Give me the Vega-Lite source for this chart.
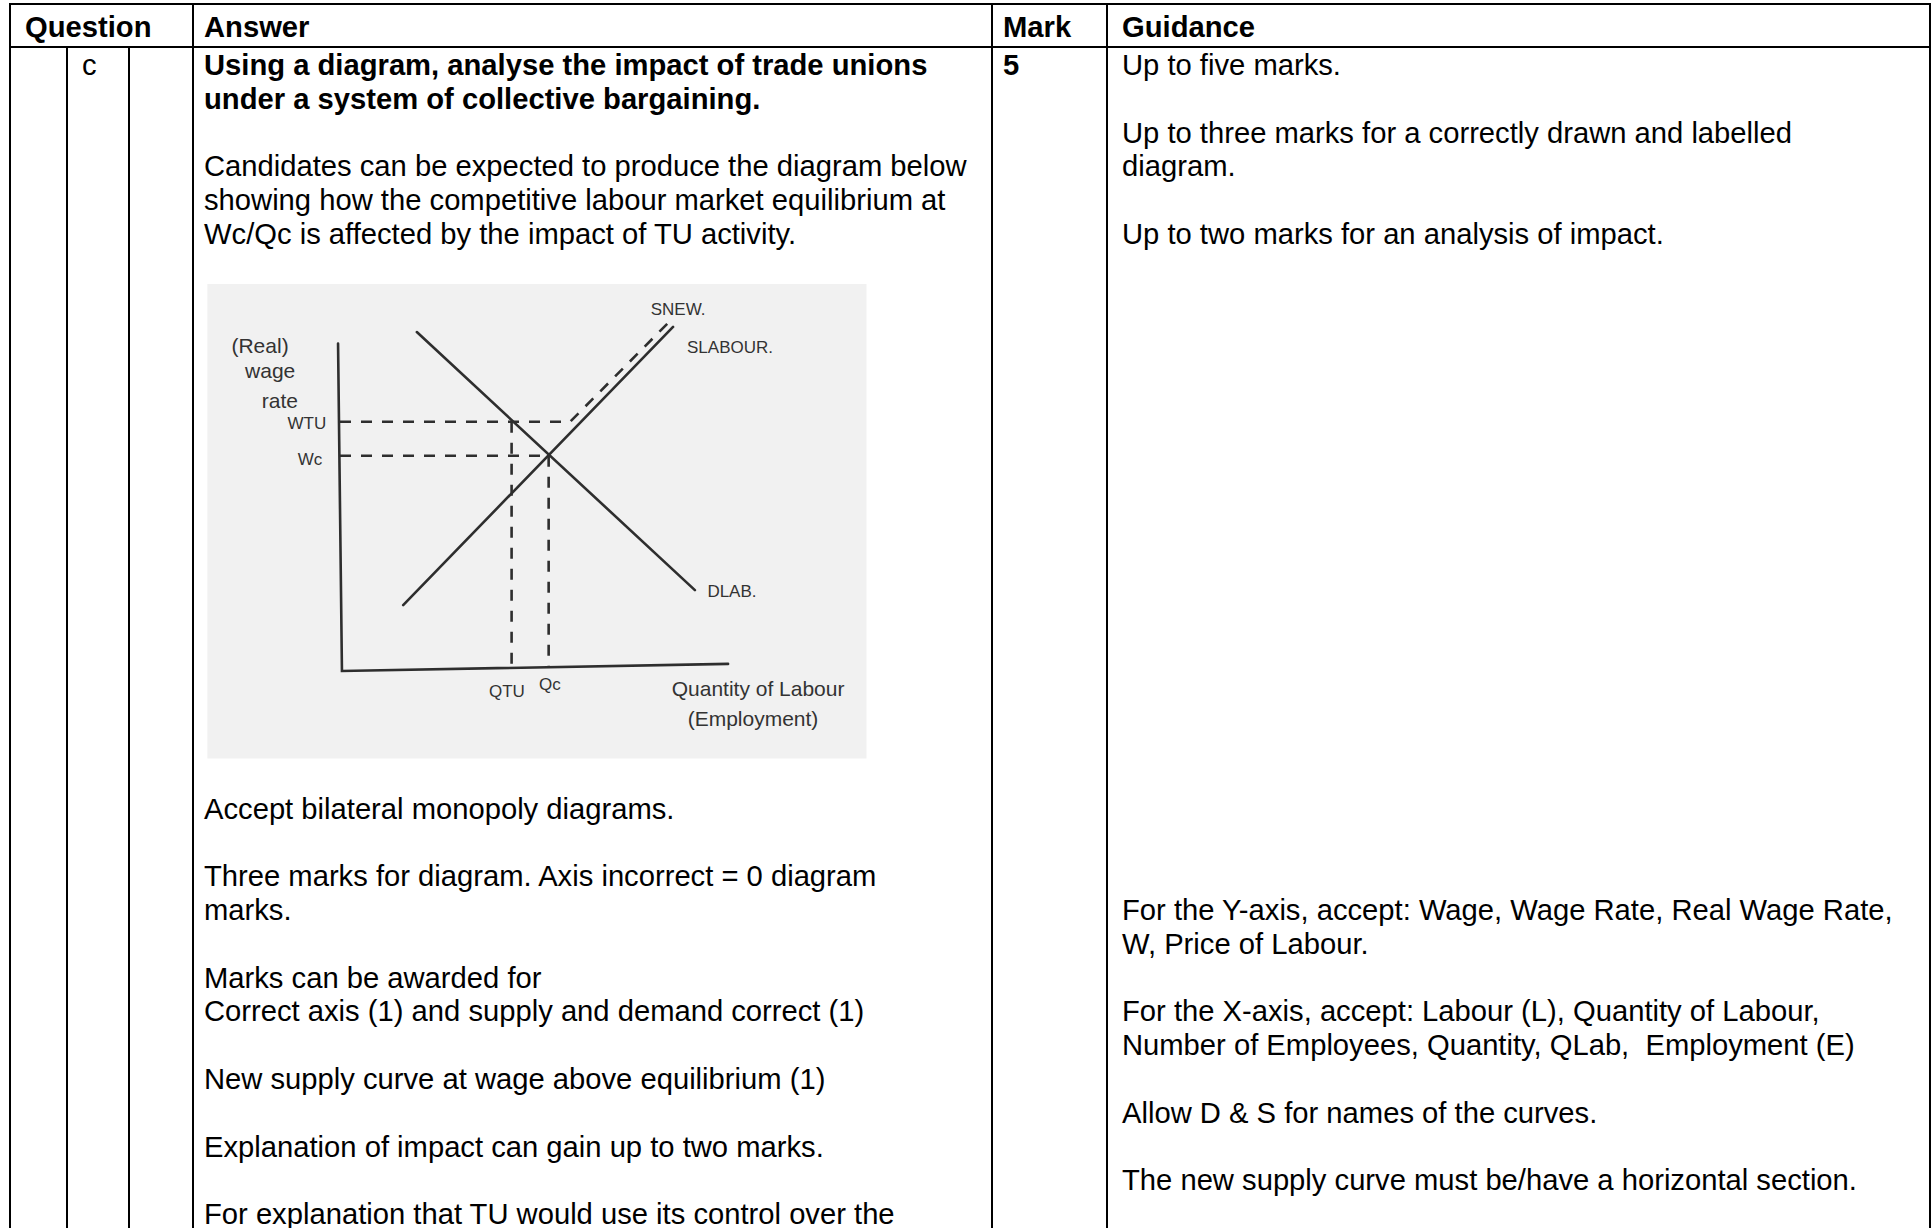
{
  "$schema": "https://vega.github.io/schema/vega-lite/v6.json",
  "width": 1932,
  "height": 1228,
  "autosize": {"type": "none"},
  "padding": 0,
  "background": "white",
  "config": {"view": {"stroke": null}, "text": {"font": "Liberation Sans"}},
  "datasets": {
    "grid": [
      {"x": 0, "x2": 0, "y": -3, "y2": 36},
      {"x": 1, "x2": 1, "y": -1, "y2": 36},
      {"x": 2, "x2": 2, "y": -1, "y2": 36},
      {"x": 3, "x2": 3, "y": -3, "y2": 36},
      {"x": 4, "x2": 4, "y": -3, "y2": 36},
      {"x": 5, "x2": 5, "y": -3, "y2": 36},
      {"x": 6, "x2": 6, "y": -3, "y2": 36},
      {"x": 0, "x2": 6, "y": -3, "y2": -3},
      {"x": 0, "x2": 6, "y": -1, "y2": -1}
    ],
    "txt": [
      {"col": 0, "line": -2, "bold": true, "text": "Question"},
      {"col": 3, "line": -2, "bold": true, "text": "Answer"},
      {"col": 4, "line": -2, "bold": true, "text": "Mark"},
      {"col": 5, "line": -2, "bold": true, "text": "Guidance"},
      {"col": 1, "line": 0, "bold": false, "text": "c"},
      {"col": 3, "line": 0, "bold": true, "text": "Using a diagram, analyse the impact of trade unions"},
      {"col": 3, "line": 1, "bold": true, "text": "under a system of collective bargaining."},
      {"col": 3, "line": 3, "bold": false, "text": "Candidates can be expected to produce the diagram below"},
      {"col": 3, "line": 4, "bold": false, "text": "showing how the competitive labour market equilibrium at"},
      {"col": 3, "line": 5, "bold": false, "text": "Wc/Qc is affected by the impact of TU activity."},
      {"col": 3, "line": 22, "bold": false, "text": "Accept bilateral monopoly diagrams."},
      {"col": 3, "line": 24, "bold": false, "text": "Three marks for diagram. Axis incorrect = 0 diagram"},
      {"col": 3, "line": 25, "bold": false, "text": "marks."},
      {"col": 3, "line": 27, "bold": false, "text": "Marks can be awarded for"},
      {"col": 3, "line": 28, "bold": false, "text": "Correct axis (1) and supply and demand correct (1)"},
      {"col": 3, "line": 30, "bold": false, "text": "New supply curve at wage above equilibrium (1)"},
      {"col": 3, "line": 32, "bold": false, "text": "Explanation of impact can gain up to two marks."},
      {"col": 3, "line": 34, "bold": false, "text": "For explanation that TU would use its control over the"},
      {"col": 4, "line": 0, "bold": true, "text": "5"},
      {"col": 5, "line": 0, "bold": false, "text": "Up to five marks."},
      {"col": 5, "line": 2, "bold": false, "text": "Up to three marks for a correctly drawn and labelled"},
      {"col": 5, "line": 3, "bold": false, "text": "diagram."},
      {"col": 5, "line": 5, "bold": false, "text": "Up to two marks for an analysis of impact."},
      {"col": 5, "line": 25, "bold": false, "text": "For the Y-axis, accept: Wage, Wage Rate, Real Wage Rate,"},
      {"col": 5, "line": 26, "bold": false, "text": "W, Price of Labour."},
      {"col": 5, "line": 28, "bold": false, "text": "For the X-axis, accept: Labour (L), Quantity of Labour,"},
      {"col": 5, "line": 29, "bold": false, "text": "Number of Employees, Quantity, QLab,\u00a0 Employment (E)"},
      {"col": 5, "line": 31, "bold": false, "text": "Allow D & S for names of the curves."},
      {"col": 5, "line": 33, "bold": false, "text": "The new supply curve must be/have a horizontal section."}
    ],
    "paper": [{"q": -34, "q2": 135, "w": 113.5, "w2": -26}],
    "solid": [
      {"s": "axes", "o": 0, "q": -0.5, "w": 96},
      {"s": "axes", "o": 1, "q": 0.5, "w": -0.3},
      {"s": "axes", "o": 2, "q": 99.5, "w": 1.8},
      {"s": "demand", "o": 0, "q": 19.7, "w": 99.4},
      {"s": "demand", "o": 1, "q": 91, "w": 23.5},
      {"s": "supply", "o": 0, "q": 16.2, "w": 19.1},
      {"s": "supply", "o": 1, "q": 85.4, "w": 100.9}
    ],
    "dashed": [
      {"s": "snew", "o": 0, "q": 0, "w": 73},
      {"s": "snew", "o": 1, "q": 59, "w": 73},
      {"s": "snew", "o": 2, "q": 84.5, "w": 102.5},
      {"s": "wc", "o": 0, "q": 0, "w": 63},
      {"s": "wc", "o": 1, "q": 53.5, "w": 63},
      {"s": "qtu", "o": 0, "q": 44, "w": 73},
      {"s": "qtu", "o": 1, "q": 44, "w": 0.3},
      {"s": "qc", "o": 0, "q": 53.5, "w": 63},
      {"s": "qc", "o": 1, "q": 53.5, "w": 1}
    ],
    "labels": [
      {"kind": "word", "q": -20.5, "w": 95, "text": "(Real)"},
      {"kind": "word", "q": -17.9, "w": 87.6, "text": "wage"},
      {"kind": "word", "q": -15.4, "w": 78.8, "text": "rate"},
      {"kind": "cap", "q": -8.5, "w": 72.4, "text": "WTU"},
      {"kind": "cap", "q": -7.7, "w": 61.8, "text": "Wc"},
      {"kind": "cap", "q": 86.7, "w": 105.9, "text": "SNEW."},
      {"kind": "cap", "q": 100, "w": 94.7, "text": "SLABOUR."},
      {"kind": "cap", "q": 100.5, "w": 22.9, "text": "DLAB."},
      {"kind": "cap", "q": 42.8, "w": -6.5, "text": "QTU"},
      {"kind": "cap", "q": 53.8, "w": -4.4, "text": "Qc"},
      {"kind": "word", "q": 107.2, "w": -5.9, "text": "Quantity of Labour"},
      {"kind": "word", "q": 105.9, "w": -14.7, "text": "(Employment)"}
    ]
  },
  "layer": [
    {
      "layer": [
        {
          "data": {"name": "grid"},
          "mark": {"type": "rule", "color": "black", "strokeWidth": 2, "strokeCap": "square"},
          "encoding": {
            "x": {"field": "x", "type": "quantitative", "axis": null, "scale": {"domain": [0, 1, 2, 3, 4, 5, 6], "range": [10, 67, 129, 193, 992, 1107, 1930], "nice": false, "zero": false}},
            "x2": {"field": "x2"},
            "y": {"field": "y", "type": "quantitative", "axis": null, "scale": {"domain": [-3, -2, -1, 0, 34], "range": [4, 28, 47, 66, 1215.2], "nice": false, "zero": false}},
            "y2": {"field": "y2"}
          }
        },
        {
          "data": {"name": "txt"},
          "transform": [{"filter": "datum.bold && (datum.col == 3 || datum.col == 4)"}],
          "mark": {"type": "text", "align": "left", "baseline": "middle", "dx": 11, "fontSize": 29.2, "fontWeight": "bold", "color": "black"},
          "encoding": {
            "x": {"field": "col", "type": "quantitative", "axis": null},
            "y": {"field": "line", "type": "quantitative", "axis": null},
            "text": {"field": "text"}
          }
        },
        {
          "data": {"name": "txt"},
          "transform": [{"filter": "datum.bold && !(datum.col == 3 || datum.col == 4)"}],
          "mark": {"type": "text", "align": "left", "baseline": "middle", "dx": 15, "fontSize": 29.2, "fontWeight": "bold", "color": "black"},
          "encoding": {
            "x": {"field": "col", "type": "quantitative", "axis": null},
            "y": {"field": "line", "type": "quantitative", "axis": null},
            "text": {"field": "text"}
          }
        },
        {
          "data": {"name": "txt"},
          "transform": [{"filter": "!datum.bold && (datum.col == 3 || datum.col == 4)"}],
          "mark": {"type": "text", "align": "left", "baseline": "middle", "dx": 11, "fontSize": 29.2, "color": "black"},
          "encoding": {
            "x": {"field": "col", "type": "quantitative", "axis": null},
            "y": {"field": "line", "type": "quantitative", "axis": null},
            "text": {"field": "text"}
          }
        },
        {
          "data": {"name": "txt"},
          "transform": [{"filter": "!datum.bold && !(datum.col == 3 || datum.col == 4)"}],
          "mark": {"type": "text", "align": "left", "baseline": "middle", "dx": 15, "fontSize": 29.2, "color": "black"},
          "encoding": {
            "x": {"field": "col", "type": "quantitative", "axis": null},
            "y": {"field": "line", "type": "quantitative", "axis": null},
            "text": {"field": "text"}
          }
        }
      ]
    },
    {
      "layer": [
        {
          "data": {"name": "paper"},
          "mark": {"type": "rect", "color": "#f1f1f1"},
          "encoding": {
            "x": {"field": "q", "type": "quantitative", "axis": null, "scale": {"domain": [0, 100], "range": [340, 730], "nice": false, "zero": false}},
            "x2": {"field": "q2"},
            "y": {"field": "w", "type": "quantitative", "axis": null, "scale": {"domain": [0, 100], "range": [670, 330], "nice": false, "zero": false}},
            "y2": {"field": "w2"}
          }
        },
        {
          "data": {"name": "solid"},
          "mark": {"type": "line", "color": "#2e2e2e", "strokeWidth": 2.6, "strokeCap": "round"},
          "encoding": {
            "x": {"field": "q", "type": "quantitative", "axis": null},
            "y": {"field": "w", "type": "quantitative", "axis": null},
            "detail": {"field": "s"},
            "order": {"field": "o"}
          }
        },
        {
          "data": {"name": "dashed"},
          "mark": {"type": "line", "color": "#2e2e2e", "strokeWidth": 2.6, "strokeDash": [11, 10]},
          "encoding": {
            "x": {"field": "q", "type": "quantitative", "axis": null},
            "y": {"field": "w", "type": "quantitative", "axis": null},
            "detail": {"field": "s"},
            "order": {"field": "o"}
          }
        },
        {
          "data": {"name": "labels"},
          "transform": [{"filter": "datum.kind == 'word'"}],
          "mark": {"type": "text", "align": "center", "baseline": "middle", "fontSize": 21, "color": "#333333"},
          "encoding": {
            "x": {"field": "q", "type": "quantitative", "axis": null},
            "y": {"field": "w", "type": "quantitative", "axis": null},
            "text": {"field": "text"}
          }
        },
        {
          "data": {"name": "labels"},
          "transform": [{"filter": "datum.kind == 'cap'"}],
          "mark": {"type": "text", "align": "center", "baseline": "middle", "fontSize": 17, "color": "#333333"},
          "encoding": {
            "x": {"field": "q", "type": "quantitative", "axis": null},
            "y": {"field": "w", "type": "quantitative", "axis": null},
            "text": {"field": "text"}
          }
        }
      ]
    }
  ],
  "resolve": {"scale": {"x": "independent", "y": "independent"}}
}
